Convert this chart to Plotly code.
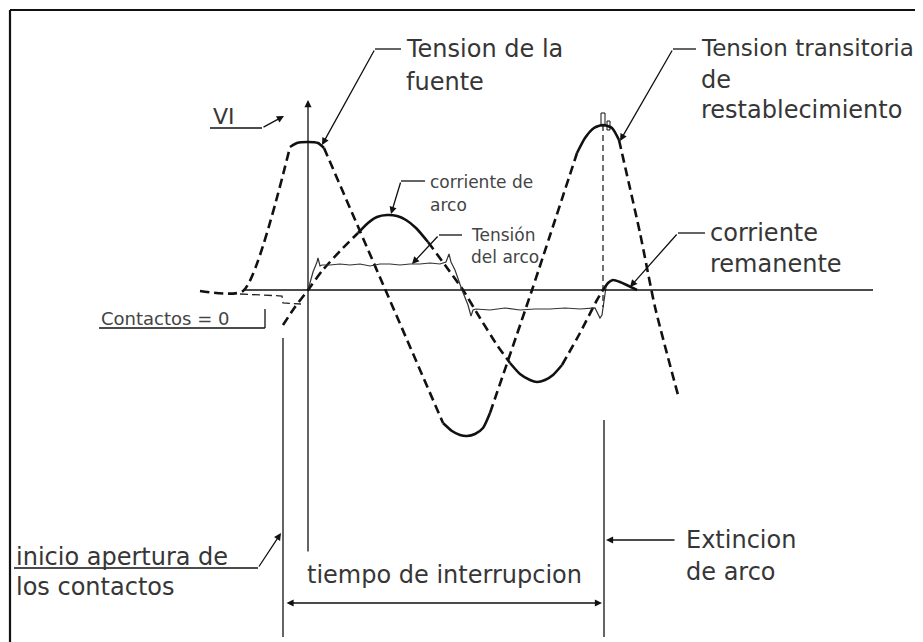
import plotly.graph_objects as go

# ---------------------------------------------------------------
# Datos del esquema (coordenadas del dibujo, 923 x 642)
# ---------------------------------------------------------------

# Tension de la fuente + tension transitoria de restablecimiento
tension_x = [200, 243, 290, 297, 308, 318, 324, 443, 452, 460, 467, 475,
             483, 490, 532, 577, 585, 594, 603, 612, 619, 640, 655, 678]
tension_y = [291, 291, 147, 143, 142, 143, 148, 423, 431, 435, 436, 434,
             428, 413, 290, 153, 138, 128, 125, 128, 140, 233, 307, 395]
# tramos (desde, hasta, continuo)
tramos_tension = [(0, 2, False), (2, 6, True), (6, 7, False), (7, 13, True),
                  (13, 15, False), (15, 20, True), (20, 23, False)]

# Corriente de arco + corriente remanente
corriente_x = [283, 295, 308, 322, 340, 358, 368, 377, 387, 397, 406, 416,
               428, 445, 463, 480, 497, 510, 520, 530, 537, 545, 553, 562,
               580, 597, 603, 608, 613, 620, 637]
corriente_y = [325, 307, 290, 271, 251, 233, 223, 217, 215, 216, 220, 228,
               242, 265, 290, 318, 345, 363, 374, 380, 382, 380, 375, 365,
               333, 300, 290, 283, 280, 282, 290]
tramos_corriente = [(0, 5, False), (5, 12, True), (12, 17, False),
                    (17, 23, True), (23, 26, False), (26, 30, True)]

# Tension del arco (traza fina con ruido del dibujo)
arco_x = [308, 313, 317, 318, 320, 322, 330, 340, 350, 360, 370, 380, 390,
          400, 410, 420, 430, 440, 446, 449, 451, 455, 462, 468, 471, 473,
          476, 490, 505, 520, 535, 550, 565, 580, 595, 600, 602, 604, 606]
arco_y = [290, 272, 262, 258, 266, 265, 265, 264, 265, 264, 266, 264, 264,
          265, 264, 264, 263, 264, 262, 254, 262, 270, 290, 305, 316, 310,
          309, 310, 308, 310, 309, 309, 308, 309, 308, 318, 315, 300, 287]

# Posicion de los contactos
contactos_x = [240, 282, 283, 296, 301]
contactos_y = [294, 296, 303, 304, 304]

# Textos
textos = [
    ("Tension de la", 404, 49, 24),
    ("fuente", 404, 82, 24),
    ("Tension transitoria", 699, 48, 23),
    ("de", 699, 80, 24),
    ("restablecimiento", 699, 110, 24),
    ("VI", 211, 116, 22),
    ("corriente de", 428, 182, 17),
    ("arco", 428, 205, 17),
    ("Tensión", 469, 235, 17),
    ("del arco", 469, 257, 17),
    ("corriente", 708, 233, 24),
    ("remanente", 708, 264, 24),
    ("Contactos = 0", 99, 318, 18),
    ("inicio apertura de", 14, 557, 24),
    ("los contactos", 14, 587, 24),
    ("tiempo de interrupcion", 444, 575, 24),
    ("Extincion", 684, 540, 24),
    ("de arco", 684, 572, 24),
]

NEGRO = "#111111"
MARGEN = 8  # margen del <body> de la pagina
fig = go.Figure()


def tramo(xs, ys, a, b, continuo, ancho=2.6):
    fig.add_trace(go.Scatter(
        x=xs[a:b + 1], y=ys[a:b + 1], mode="lines",
        line=dict(color=NEGRO, width=ancho, shape="spline", smoothing=0.6,
                  dash="solid" if continuo else "9px,5px"),
        hoverinfo="skip"))


for a, b, c in tramos_tension:
    tramo(tension_x, tension_y, a, b, c)
for a, b, c in tramos_corriente:
    tramo(corriente_x, corriente_y, a, b, c)

fig.add_trace(go.Scatter(x=arco_x, y=arco_y, mode="lines",
                         line=dict(color="#333333", width=1.2), hoverinfo="skip"))
fig.add_trace(go.Scatter(x=contactos_x, y=contactos_y, mode="lines",
                         line=dict(color="#222222", width=1.3, dash="8px,4px"),
                         hoverinfo="skip"))


def linea(x0, y0, x1, y1, ancho=1.3, dash="solid"):
    fig.add_shape(type="line", x0=x0, y0=y0, x1=x1, y1=y1, xref="x", yref="y",
                  line=dict(color=NEGRO, width=ancho, dash=dash))


def flecha(x, y, ax, ay, lados="end"):
    fig.add_annotation(x=x, y=y, ax=ax, ay=ay, xref="x", yref="y",
                       axref="x", ayref="y", text="", showarrow=True,
                       arrowhead=2, arrowsize=1.1, arrowwidth=1.3,
                       arrowcolor=NEGRO, arrowside=lados)


# Marco
linea(10, 10, 918, 10, 2.2)
linea(10, 10, 10, 642, 2.2)
linea(918, 10, 918, 642, 2.2)

# Ejes
linea(243, 290, 873, 290, 1.4)
flecha(308, 100, 308, 553)

# Lineas verticales de tiempo
linea(283, 338, 283, 637)
linea(604, 420, 604, 637)
linea(603, 125, 603, 307, 1.2, "6px,4px")
fig.add_shape(type="rect", x0=601, x1=605, y0=113, y1=126,
              line=dict(color=NEGRO, width=1))
fig.add_shape(type="rect", x0=607, x1=610, y0=121, y1=130,
              line=dict(color=NEGRO, width=1))

# Cotas y llamadas
flecha(602, 603, 285, 603, "end+start")
flecha(606, 540, 676, 540)

linea(401, 49, 375, 49)
flecha(322, 145, 375, 49)
linea(696, 49, 673, 49)
flecha(620, 141, 673, 49)
linea(210, 128, 262, 128)
flecha(284, 116, 262, 128)
linea(425, 181, 401, 181)
flecha(391, 214, 401, 181)
linea(462, 235, 439, 235)
flecha(412, 264, 439, 235)
linea(705, 233, 678, 233)
flecha(630, 287, 678, 233)
linea(99, 328, 265, 328)
linea(265, 328, 265, 309)
linea(14, 568, 258, 568)
flecha(281, 533, 258, 568)

for t, x, y, s in textos:
    centrado = t.startswith("tiempo")
    fig.add_annotation(x=x, y=y, xref="x", yref="y", text=t, showarrow=False,
                       xanchor="center" if centrado else "left", yanchor="middle",
                       font=dict(family="DejaVu Sans", size=s,
                                 color="#444444" if s < 20 else "#363636"))

fig.update_layout(
    width=923 - MARGEN, height=642 - MARGEN,
    margin=dict(l=0, r=0, t=0, b=0),
    paper_bgcolor="white", plot_bgcolor="white",
    showlegend=False,
    xaxis=dict(range=[MARGEN, 923], visible=False, fixedrange=True),
    yaxis=dict(range=[642, MARGEN], visible=False, fixedrange=True),
)

fig.write_html("out.html")
